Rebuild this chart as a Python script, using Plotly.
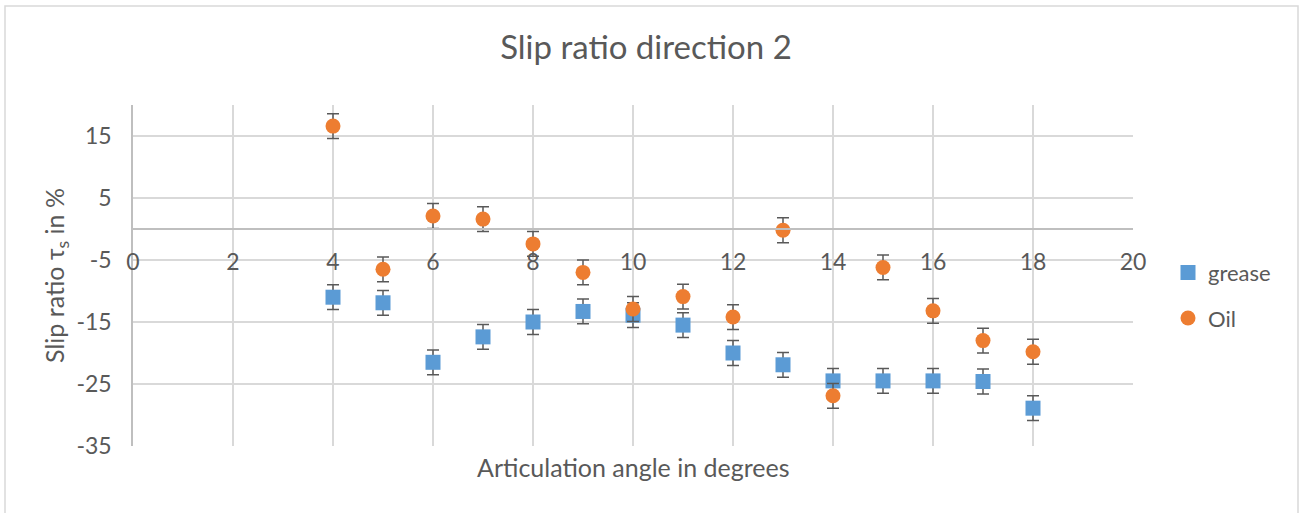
import plotly.graph_objects as go

# Articulation angles (degrees)
angles = [4, 5, 6, 7, 8, 9, 10, 11, 12, 13, 14, 15, 16, 17, 18]

# Slip ratio (%) per lubricant
grease = [-11.0, -11.9, -21.5, -17.4, -15.0, -13.3, -13.9, -15.5, -20.0, -21.9, -24.5, -24.5, -24.5, -24.6, -28.9]
oil = [16.6, -6.5, 2.1, 1.6, -2.4, -7.0, -12.9, -10.9, -14.2, -0.2, -26.9, -6.2, -13.2, -18.0, -19.8]

# Constant error margin (%)
err = 2

x_ticks = list(range(0, 21, 2))
y_ticks = [-35, -25, -15, -5, 5, 15]
y_range = [-35, 20]

FONT = "Lato"
TXT = "#595959"
GRID = "#d9d9d9"
AXIS = "#bfbfbf"

err_style = dict(type="constant", value=err, color="#595959", thickness=1.5, width=6)

fig = go.Figure()
fig.add_trace(go.Scatter(
    x=angles, y=grease, mode="markers", name="grease", legendgroup="g",
    marker=dict(symbol="square", size=15, color="#5B9BD5"),
    error_y=err_style,
))
fig.add_trace(go.Scatter(
    x=angles, y=oil, mode="markers", name="Oil", legendgroup="o",
    marker=dict(symbol="circle", size=15, color="#ED7D31"),
    error_y=err_style,
))

zero_pos = (0 - y_range[0]) / (y_range[1] - y_range[0])

fig.update_layout(
    width=1299, height=513,
    margin=dict(l=133, r=166, t=105, b=67),
    paper_bgcolor="white", plot_bgcolor="white",
    font=dict(family=FONT, color=TXT, size=22),
    title=dict(text="Slip ratio direction 2", x=646 / 1299, xanchor="center",
               y=1 - 47 / 513, yanchor="middle",
               font=dict(family=FONT, size=33, color=TXT)),
    xaxis=dict(
        range=[0, 20], tickvals=x_ticks, ticktext=[str(v) for v in x_ticks],
        showgrid=True, gridcolor=GRID, gridwidth=1.5,
        showline=True, linecolor=AXIS, linewidth=1.5,
        anchor="free", position=zero_pos,
        ticks="", ticklabelstandoff=13,
        tickfont=dict(family=FONT, size=23, color=TXT),
        zeroline=False,
    ),
    yaxis=dict(
        range=y_range, tickvals=y_ticks, ticktext=[str(v) for v in y_ticks],
        showgrid=True, gridcolor=GRID, gridwidth=1.5,
        showline=True, linecolor=AXIS, linewidth=1.5,
        ticks="", ticklabelstandoff=15,
        tickfont=dict(family=FONT, size=23, color=TXT),
        zeroline=False,
        title=dict(text="Slip ratio τ<sub>s</sub> in %", standoff=5,
                   font=dict(family=FONT, size=25, color=TXT)),
    ),
    legend=dict(
        x=1.035, xanchor="left", y=0.57, yanchor="top",
        traceorder="grouped", tracegroupgap=14,
        font=dict(family=FONT, size=22, color=TXT),
        itemwidth=30,
    ),
    annotations=[dict(
        text="Articulation angle in degrees", xref="paper", yref="paper",
        x=0.5, y=0, xanchor="center", yanchor="middle", yshift=-21,
        showarrow=False, font=dict(family=FONT, size=25, color=TXT),
    )],
    shapes=[dict(
        type="rect", xref="paper", yref="paper",
        x0=-128 / 1000, x1=1165 / 1000, y0=-80 / 341, y1=1 + 99 / 341,
        line=dict(color=GRID, width=1.5), fillcolor="rgba(0,0,0,0)", layer="below",
    )],
)

fig.write_html("out.html")
